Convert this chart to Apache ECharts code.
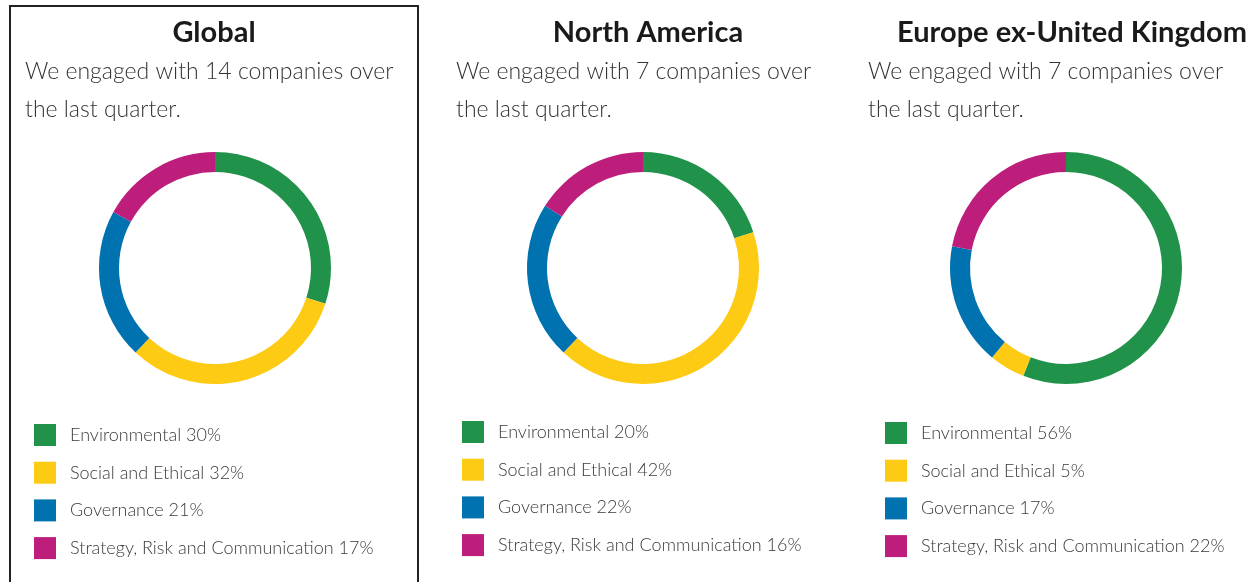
<!DOCTYPE html>
<html>
<head>
<meta charset="utf-8">
<script src="https://cdn.jsdelivr.net/npm/echarts@6/dist/echarts.min.js"></script>
<style>
  html, body { margin: 0; padding: 0; background: #fff; }
  #chart { width: 1258px; height: 582px; }
</style>
</head>
<body>
<div id="chart"></div>
<script>
  // categories and colours
  const categories = ['Environmental', 'Social and Ethical', 'Governance', 'Strategy, Risk and Communication'];
  const colors = ['#21924a', '#fdca14', '#0072b0', '#be1e7b'];

  // panels
  const regions = ['Global', 'North America', 'Europe ex-United Kingdom'];
  const companies = [14, 7, 7];

  // share of engagements, %
  const globalValues = [30, 32, 21, 17];
  const northAmericaValues = [20, 42, 22, 16];
  const europeValues = [56, 5, 17, 22];
  const values = [globalValues, northAmericaValues, europeValues];

  // layout per panel
  const centersX = [215, 643, 1066];
  const titleX = [214, 648, 1072];
  const textX = [25, 456, 868];
  const legendX = [34, 462, 885];
  const legendY = [424, 421, 422];

  let chart = echarts.init(document.getElementById('chart'));
  let font = 'Lato, "Noto Sans", sans-serif';

  let titles = [];
  let legends = [];
  let series = [];
  regions.forEach((r, i) => {
    titles.push({
      text: r,
      left: titleX[i],
      top: 18,
      padding: 0,
      textAlign: 'center',
      textStyle: { fontFamily: font, fontSize: 29, fontWeight: 'bold', color: '#1a1a1a' }
    });
    titles.push({
      text: 'We engaged with ' + companies[i] + ' companies over\nthe last quarter.',
      left: textX[i],
      top: 53,
      padding: 0,
      textStyle: { fontFamily: font, fontSize: 23, fontWeight: 300, color: '#333', lineHeight: 38 }
    });
    let vals = values[i];
    legends.push({
      orient: 'vertical',
      left: legendX[i],
      top: legendY[i],
      padding: 0,
      icon: 'rect',
      itemWidth: 22,
      itemHeight: 22,
      itemGap: 15.7,
      selectedMode: false,
      data: categories,
      formatter: name => name + ' ' + vals[categories.indexOf(name)] + '%',
      textStyle: { fontFamily: font, fontSize: 18, fontWeight: 300, color: '#3a3a3a', padding: [0, 0, 0, 9] }
    });
    series.push({
      type: 'pie',
      name: r,
      center: [centersX[i], 268],
      radius: [96, 116],
      startAngle: 90,
      clockwise: true,
      silent: true,
      label: { show: false },
      labelLine: { show: false },
      data: categories.map((c, k) => ({ name: c, value: vals[k], itemStyle: { color: colors[k] } }))
    });
  });

  let option = {
    animation: false,
    title: titles,
    legend: legends,
    graphic: [{
      type: 'rect',
      shape: { x: 10, y: 6, width: 408, height: 590 },
      style: { fill: 'none', stroke: '#222', lineWidth: 2 }
    }],
    series: series
  };
  chart.setOption(option);
</script>
</body>
</html>
